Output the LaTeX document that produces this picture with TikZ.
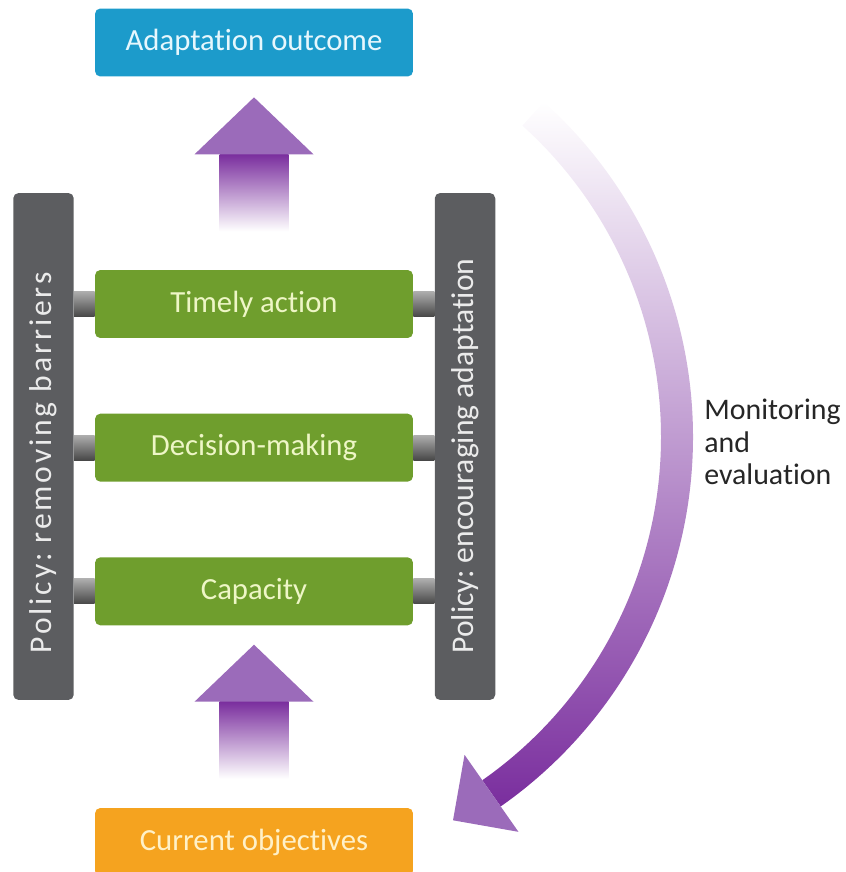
\documentclass[tikz,border=0pt]{standalone}
\usepackage{fontspec}
\setmainfont{Carlito}[Ligatures=NoCommon]
\frenchspacing
\usetikzlibrary{calc,positioning}

\definecolor{outblue}{HTML}{1C9BCB}
\definecolor{actgreen}{HTML}{6F9E2D}
\definecolor{objorange}{HTML}{F5A31F}
\definecolor{bargray}{HTML}{5C5D60}
\definecolor{arrpurple}{HTML}{7A2E9E}
\definecolor{headpurple}{HTML}{9B6BBA}
\definecolor{paleblue}{HTML}{E6F7FD}
\definecolor{palegreen}{HTML}{EEF6C6}
\definecolor{paleorange}{HTML}{FFF1C8}

\tikzset{
  box/.style={rectangle, rounded corners=3pt, minimum width=6.36cm,
    minimum height=1.36cm, inner sep=0pt, font=\fontsize{17.5}{20}\selectfont},
  outcome/.style={box, fill=outblue, text=paleblue},
  action/.style={box, fill=actgreen, text=palegreen},
  objective/.style={box, fill=objorange, text=paleorange},
  policybar/.style={rectangle, rounded corners=3pt, fill=bargray,
    minimum width=1.21cm, minimum height=10.14cm, inner sep=0pt},
  policytext/.style={rotate=90, text=black!8, inner sep=0pt,
    font=\fontsize{18}{20}\selectfont},
  rung/.style={top color=black!32, middle color=black!12, bottom color=black!72},
  riser/.pic={
    \shade[top color=arrpurple, bottom color=white] (-34.5,57) rectangle (34.5,134);
    \fill[headpurple] (0,0) -- (-59.5,57) -- (59.5,57) -- cycle;
  }
}

\begin{document}
\begin{tikzpicture}[x=0.02cm, y=-0.02cm]
  \useasboundingbox (0,0) rectangle (845,872);

  % outcome, the three steps and the objectives
  \node[outcome] (ao) at (254,42.5) {Adaptation outcome};
  \node[action] (ta) at (254,304) {Timely action};
  \node[action, below=1.5cm of ta] (dm) {Decision-making};
  \node[action, below=1.5cm of dm] (cap) {Capacity};
  \node[objective] (co) at (254,842) {Current objectives};

  % policy side bars
  \node[policybar] (lbar) at (43.5,446.5) {};
  \node[policybar] (rbar) at (465,446.5) {};
  \node[policytext] at ($(lbar.center)+(0,16.5)$)
    {\addfontfeature{LetterSpace=9}Policy: removing barriers};
  \node[policytext] at ($(rbar.center)+(0,9.5)$) {Policy: encouraging adaptation};

  % rungs between bars and steps
  \foreach \b in {ta,dm,cap}{
    \shade[rung] ($(lbar.east |- \b.west)+(0,-12.5)$) rectangle ($(\b.west)+(0,12.5)$);
    \shade[rung] ($(\b.east)+(0,-12.5)$) rectangle ($(rbar.west |- \b.east)+(0,12.5)$);
  }

  % upward arrows
  \pic at ($(ao.south)+(0,20.5)$) {riser};
  \pic at ($(cap.south)+(0,19)$) {riser};

  % monitoring loop
  \coordinate (mc) at (242,437);
  \shade[top color=white, bottom color=arrpurple]
    ($(mc)+(-48:451)$) arc[start angle=-48, end angle=55, radius=451]
    -- ($(mc)+(55:419)$) arc[start angle=55, end angle=-48, radius=419] -- cycle;
  \fill[headpurple] ($(mc)+(55:482)$) -- ($(mc)+(55:388)$)
    -- ($(mc)+(55:435)+(145:47)$) -- cycle;
  \node[anchor=north west, align=left, inner sep=0pt, text=black!85,
    font=\fontsize{17}{18.5}\selectfont] (me) at (704,399) {Monitoring\\and\\evaluation};
\end{tikzpicture}
\end{document}
